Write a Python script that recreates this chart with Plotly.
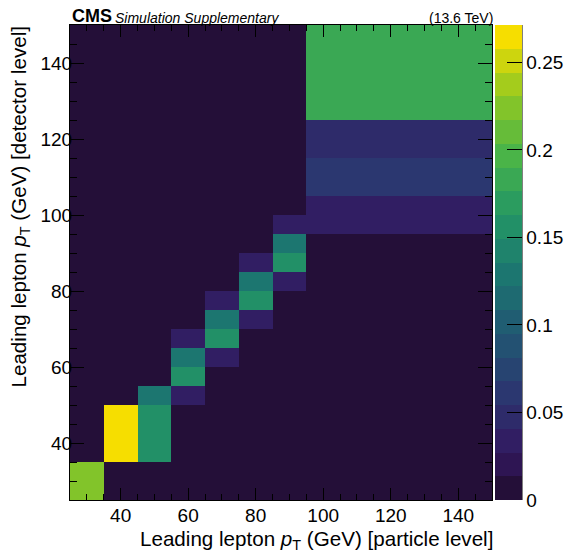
import plotly.graph_objects as go

# ---- data ----
x_edges = [25, 35, 45, 55, 65, 75, 85, 95, 150]          # particle-level bin edges
y_edges = [25, 35, 50, 55, 60, 65, 70, 75, 80, 85, 90,
           95, 100, 105, 115, 125, 150]                  # detector-level bin edges
z = [
    [0.224, 0.003, 0.003, 0.003, 0.003, 0.003, 0.003, 0.003],  # 25-35
    [0.003, 0.265, 0.156, 0.003, 0.003, 0.003, 0.003, 0.003],  # 35-50
    [0.003, 0.003, 0.129, 0.034, 0.003, 0.003, 0.003, 0.003],  # 50-55
    [0.003, 0.003, 0.003, 0.156, 0.003, 0.003, 0.003, 0.003],  # 55-60
    [0.003, 0.003, 0.003, 0.129, 0.034, 0.003, 0.003, 0.003],  # 60-65
    [0.003, 0.003, 0.003, 0.034, 0.156, 0.003, 0.003, 0.003],  # 65-70
    [0.003, 0.003, 0.003, 0.003, 0.129, 0.034, 0.003, 0.003],  # 70-75
    [0.003, 0.003, 0.003, 0.003, 0.034, 0.156, 0.003, 0.003],  # 75-80
    [0.003, 0.003, 0.003, 0.003, 0.003, 0.129, 0.034, 0.003],  # 80-85
    [0.003, 0.003, 0.003, 0.003, 0.003, 0.034, 0.156, 0.003],  # 85-90
    [0.003, 0.003, 0.003, 0.003, 0.003, 0.003, 0.129, 0.003],  # 90-95
    [0.003, 0.003, 0.003, 0.003, 0.003, 0.003, 0.034, 0.034],  # 95-100
    [0.003, 0.003, 0.003, 0.003, 0.003, 0.003, 0.003, 0.034],  # 100-105
    [0.003, 0.003, 0.003, 0.003, 0.003, 0.003, 0.003, 0.061],  # 105-115
    [0.003, 0.003, 0.003, 0.003, 0.003, 0.003, 0.003, 0.047],  # 115-125
    [0.003, 0.003, 0.003, 0.003, 0.003, 0.003, 0.003, 0.183],  # 125-150
]
cbar_ticks = [0, 0.05, 0.1, 0.15, 0.2, 0.25]
cbar_ticktext = ["0", "0.05", "0.1", "0.15", "0.2", "0.25"]
zmax = 0.2714
n_levels = 20

# ---- ROOT kViridis palette, discretised into contour levels ----
stops = [0.0, 0.125, 0.25, 0.375, 0.5, 0.625, 0.75, 0.875, 1.0]
reds = [26, 51, 43, 33, 28, 35, 74, 144, 246]
greens = [9, 24, 55, 87, 118, 150, 180, 200, 222]
blues = [30, 96, 112, 114, 112, 101, 72, 35, 0]


def palette(t):
    for i in range(len(stops) - 1):
        if t <= stops[i + 1]:
            f = (t - stops[i]) / (stops[i + 1] - stops[i])
            r = reds[i] + f * (reds[i + 1] - reds[i])
            g = greens[i] + f * (greens[i + 1] - greens[i])
            b = blues[i] + f * (blues[i + 1] - blues[i])
            return "rgb(%d,%d,%d)" % (round(r), round(g), round(b))
    return "rgb(%d,%d,%d)" % (reds[-1], greens[-1], blues[-1])


colorscale = []
for k in range(n_levels):
    c = palette((k + 1) / n_levels)
    colorscale.append([k / n_levels, c])
    colorscale.append([(k + 1) / n_levels, c])

FONT = "Liberation Sans, Arial, Helvetica, sans-serif"

fig = go.Figure(
    go.Heatmap(
        x=x_edges, y=y_edges, z=z,
        zmin=0, zmax=zmax,
        colorscale=colorscale,
        colorbar=dict(
            x=1.007, xanchor="left", xpad=0,
            y=0.5, yanchor="middle", ypad=0,
            len=1, lenmode="fraction",
            thickness=27, thicknessmode="pixels",
            outlinewidth=0,
            tickmode="array", tickvals=cbar_ticks, ticktext=cbar_ticktext,
            ticks="inside", ticklen=15, tickcolor="black", tickwidth=1,
            tickfont=dict(family=FONT, size=19, color="black"),
        ),
        hoverinfo="skip",
    )
)

axis_common = dict(
    showline=True, linecolor="black", linewidth=1, mirror="ticks",
    ticks="inside", tickcolor="black", tickwidth=1,
    showgrid=False, zeroline=False, automargin=False,
    tickfont=dict(family=FONT, size=19, color="black"),
    tickmode="array", tickvals=[40, 60, 80, 100, 120, 140],
)

fig.update_xaxes(
    range=[25, 150], ticklen=12, ticklabelstandoff=-2,
    minor=dict(tickmode="linear", tick0=0, dtick=5, ticks="inside",
               ticklen=6, tickcolor="black", tickwidth=1, showgrid=False),
    **axis_common,
)
fig.update_yaxes(
    range=[25, 150], ticklen=14, ticklabelstandoff=-7,
    minor=dict(tickmode="linear", tick0=0, dtick=5, ticks="inside",
               ticklen=7, tickcolor="black", tickwidth=1, showgrid=False),
    **axis_common,
)

annotations = [
    dict(text="<b>CMS</b>", x=0, xanchor="left", y=1, yanchor="bottom",
         xref="paper", yref="paper", showarrow=False, yshift=-3,
         font=dict(family=FONT, size=18, color="black")),
    dict(text="<i>Simulation Supplementary</i>", x=0.101, xanchor="left", y=1,
         yanchor="bottom", xref="paper", yref="paper", showarrow=False, yshift=-3,
         font=dict(family=FONT, size=14, color="black")),
    dict(text="(13.6 TeV)", x=1, xanchor="right", y=1, yanchor="bottom",
         xref="paper", yref="paper", showarrow=False, yshift=-3, xshift=3,
         font=dict(family=FONT, size=14, color="black")),
    dict(text="Leading lepton <i>p</i><sub>T</sub> (GeV) [particle level]",
         x=1, xanchor="right", y=0, yanchor="top", xref="paper", yref="paper",
         showarrow=False, yshift=-25, xshift=3,
         font=dict(family=FONT, size=20.6, color="black")),
    dict(text="Leading lepton <i>p</i><sub>T</sub> (GeV) [detector level]",
         x=0, xanchor="center", y=1, yanchor="top", xref="paper", yref="paper",
         showarrow=False, textangle=-90, xshift=-51,
         font=dict(family=FONT, size=20.6, color="black")),
]

# the page body adds an 8px offset, so the figure is 8px smaller and
# margins are shifted to land the plot frame at the reference position
fig.update_layout(
    width=572, height=548,
    margin=dict(l=62, r=88, t=17, b=56, autoexpand=False),
    paper_bgcolor="white", plot_bgcolor="white",
    annotations=annotations,
    shapes=[dict(type="line", xref="paper", yref="paper",
                 x0=1.0711, x1=1.0711, y0=0, y1=1,
                 line=dict(color="black", width=1))],
    showlegend=False,
)

fig.write_html("out.html")
